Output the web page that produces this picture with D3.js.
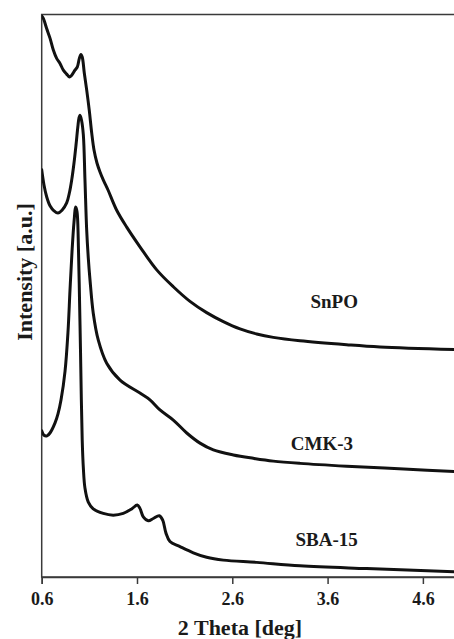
<!DOCTYPE html>
<html>
<head>
<meta charset="utf-8">
<script src="https://cdn.jsdelivr.net/npm/d3@7"></script>
<style>
  html, body { margin: 0; padding: 0; background: #fff; }
  svg { display: block; }
  text { font-family: "Liberation Serif", "Times New Roman", serif; font-weight: bold; fill: #1a1a1a; }
</style>
</head>
<body>
<svg id="chart" width="454" height="639"></svg>
<script>
// ---- data (2 theta in deg, intensity in arbitrary units) ----
const snpoTheta = [0.602,0.617,0.652,0.687,0.722,0.757,0.792,0.827,0.862,0.890,0.915,0.949,0.974,0.995,1.012,1.026,1.047,1.072,1.099,1.125,1.149,1.180,1.212,1.246,1.296,1.387,1.492,1.631,1.807,1.981,2.156,2.331,2.506,2.681,2.856,3.030,3.310,3.800,4.150,5.0];
const snpoInt   = [99.7,99.3,97.5,95.8,93.7,92.2,91.3,90.1,89.4,88.9,89.2,90.1,90.7,92.2,92.9,92.4,89.6,86.6,83.0,78.9,75.9,73.6,72.0,70.6,68.8,65.2,62.2,58.7,54.6,51.6,49.0,47.0,45.4,44.1,43.2,42.6,42.0,41.3,40.9,40.4];

const cmkTheta = [0.600,0.624,0.652,0.687,0.729,0.771,0.813,0.862,0.892,0.915,0.939,0.960,0.979,0.991,1.002,1.018,1.037,1.054,1.072,1.089,1.107,1.141,1.194,1.282,1.422,1.631,1.736,1.841,1.981,2.122,2.261,2.401,2.611,2.820,3.030,3.310,3.800,4.400,5.0];
const cmkInt   = [72.4,69.7,67.6,66.0,65.1,64.7,65.2,66.5,68.4,70.6,73.6,76.8,80.0,81.6,82.1,81.2,78.6,70.6,61.7,56.7,52.8,46.9,42.1,38.0,35.0,32.7,31.5,29.7,27.9,25.6,23.8,22.6,21.7,21.1,20.6,20.2,19.7,19.2,18.7];

const sbaTheta = [0.600,0.624,0.656,0.687,0.740,0.771,0.803,0.845,0.876,0.897,0.918,0.939,0.957,0.971,0.986,0.997,1.007,1.016,1.025,1.037,1.054,1.089,1.141,1.246,1.351,1.456,1.544,1.603,1.631,1.666,1.719,1.771,1.834,1.870,1.904,1.946,2.051,2.191,2.331,2.506,2.856,3.310,4.010,5.0];
const sbaInt   = [26.0,25.2,25.1,25.6,27.4,29.0,31.5,36.6,43.6,51.0,57.8,63.1,65.8,64.9,58.1,49.2,40.4,31.5,24.4,19.4,15.8,13.3,12.1,11.3,11.0,11.3,12.1,12.8,12.2,10.7,10.0,10.4,10.9,10.1,7.8,6.3,5.4,4.3,3.5,3.0,2.6,2.0,1.5,0.9];

const seriesNames = ["SnPO", "CMK-3", "SBA-15"];
const labelPos = [[3.67, 47.8], [3.54, 22.5], [3.59, 5.5]]; // label anchor (theta, intensity)
const tickValues = [0.6, 1.6, 2.6, 3.6, 4.6];
const xTitle = "2 Theta [deg]";
const yTitle = "Intensity [a.u.]";

// ---- layout ----
const svg = d3.select("#chart");
const pLeft = 41.7, pRight = 461, pTop = 14.5, pBottom = 577;
const x = d3.scaleLinear().domain([0.6, 5.0]).range([pLeft, pRight]);
const y = d3.scaleLinear().domain([0, 100]).range([pBottom, pTop]);

const series = [
  snpoTheta.map((t, i) => [t, snpoInt[i]]),
  cmkTheta.map((t, i) => [t, cmkInt[i]]),
  sbaTheta.map((t, i) => [t, sbaInt[i]])
];

// frame
svg.append("rect")
  .attr("x", pLeft).attr("y", pTop)
  .attr("width", pRight - pLeft).attr("height", pBottom - pTop)
  .attr("fill", "none").attr("stroke", "#3a3a3a").attr("stroke-width", 1.5);

// x axis
const xAxis = d3.axisBottom(x).tickValues(tickValues).tickSize(7).tickFormat(d3.format(".1f"));
const gx = svg.append("g").attr("transform", `translate(0,${pBottom})`).call(xAxis);
gx.select(".domain").attr("stroke", "#3a3a3a").attr("stroke-width", 1.5);
gx.selectAll(".tick line").attr("stroke", "#3a3a3a").attr("stroke-width", 1.5);
gx.selectAll(".tick text")
  .attr("y", 28).attr("dy", 0)
  .style("font-family", '"Liberation Serif", serif')
  .style("font-weight", "bold")
  .style("font-size", "18px")
  .attr("fill", "#1a1a1a");

// curves
const line = d3.line()
  .x(d => x(d[0])).y(d => y(d[1]))
  .curve(d3.curveCatmullRom.alpha(0.5));

svg.append("clipPath").attr("id", "clip")
  .append("rect").attr("x", pLeft).attr("y", pTop - 4).attr("width", pRight - pLeft).attr("height", pBottom - pTop + 4);

svg.append("g").attr("clip-path", "url(#clip)")
  .selectAll("path.curve").data(series).enter()
  .append("path").attr("class", "curve")
  .attr("d", line)
  .attr("fill", "none")
  .attr("stroke", "#111")
  .attr("stroke-width", 3)
  .attr("stroke-linejoin", "round")
  .attr("stroke-linecap", "round");

// series labels
svg.selectAll("text.lbl").data(seriesNames).enter()
  .append("text").attr("class", "lbl")
  .attr("x", (d, i) => x(labelPos[i][0]))
  .attr("y", (d, i) => y(labelPos[i][1]))
  .attr("text-anchor", "middle")
  .style("font-size", "19px")
  .text(d => d);

// axis titles
svg.append("text")
  .attr("x", 240).attr("y", 635)
  .attr("text-anchor", "middle")
  .style("font-size", "22px")
  .text(xTitle);

svg.append("text")
  .attr("transform", "translate(31.5,272) rotate(-90)")
  .attr("text-anchor", "middle")
  .style("font-size", "22px")
  .text(yTitle);
</script>
</body>
</html>
